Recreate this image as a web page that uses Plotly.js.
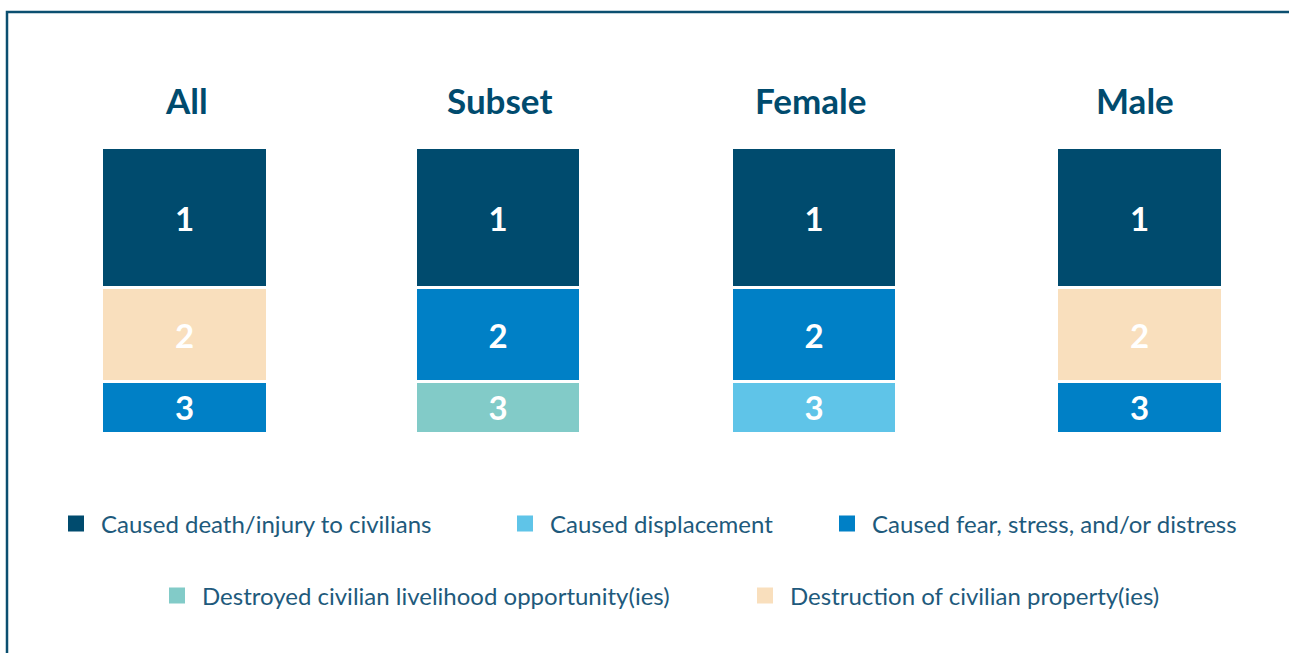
<!DOCTYPE html>
<html><head><meta charset="utf-8">
<script src="https://cdn.plot.ly/plotly-3.0.1.min.js"></script>
<style>html,body{margin:0;padding:0;background:#fff;} #chart{width:1289px;height:653px;}</style>
</head><body><div id="chart"></div>
<script>
const groups = ['All', 'Subset', 'Female', 'Male'];
const categories = [
  'Destroyed civilian livelihood opportunity(ies)',
  'Caused displacement',
  'Caused fear, stress, and/or distress',
  'Destruction of civilian property(ies)',
  'Caused death/injury to civilians'
];
// rank of each category within each group (null = not in top 3)
const livelihoodRank   = [null, 3, null, null];
const displacementRank = [null, null, 3, null];
const fearRank         = [3, 2, 2, 3];
const propertyRank     = [2, null, null, 2];
const deathRank        = [1, 1, 1, 1];
const ranks = [livelihoodRank, displacementRank, fearRank, propertyRank, deathRank];
// segment size shown for each rank (1st, 2nd, 3rd)
const rankHeights = [2.72, 1.83, 1.0];
const colors = ['#82CBC8', '#5FC4E8', '#0080C6', '#F9DFBD', '#004B6E'];
const legendIds = ['legend4', 'legend2', 'legend3', 'legend5', 'legend'];

const FONT = 'Lato, "Open Sans", sans-serif';
const traces = [];
groups.forEach((g, gi) => {
  const ax = gi === 0 ? 'x' : 'x' + (gi + 1);
  categories.forEach((c, ci) => {
    const r = ranks[ci][gi];
    if (r === null) return;
    traces.push({
      type: 'bar', xaxis: ax, yaxis: 'y',
      x: [g], y: [rankHeights[r - 1]], text: [String(r)],
      name: c, showlegend: false, width: 1,
      marker: {color: colors[ci], line: {color: '#ffffff', width: 2.5}},
      textposition: 'inside', insidetextanchor: 'middle', textangle: 0,
      constraintext: 'none',
      textfont: {family: FONT, size: 33, color: '#ffffff', weight: 700},
      hoverinfo: 'none'
    });
  });
});
// legend entries
categories.forEach((c, ci) => {
  traces.push({
    type: 'scatter', mode: 'markers', x: [null], y: [null], xaxis: 'x', yaxis: 'y',
    name: c, legend: legendIds[ci], showlegend: true,
    marker: {symbol: 'square', size: 18, color: colors[ci]}, hoverinfo: 'none'
  });
});

const W = 1289, H = 653;
const px = v => v / W, py = v => (H - v) / H;
const barX = [[102, 267], [416, 580], [732, 896], [1057, 1222]];
const titleShift = [2, 1, -4, -5];
const layout = {
  width: W, height: H, margin: {l: 0, r: 0, t: 0, b: 0},
  paper_bgcolor: '#ffffff', plot_bgcolor: '#ffffff',
  barmode: 'stack', hovermode: false,
  yaxis: {domain: [py(433), py(148)], range: [0, rankHeights[0] + rankHeights[1] + rankHeights[2]],
          visible: false, fixedrange: true},
  annotations: [], shapes: [
    {type: 'rect', xref: 'paper', yref: 'paper', x0: px(7), x1: 1.05, y0: -0.1, y1: py(12),
     line: {color: '#0b4f70', width: 2.5}, fillcolor: 'rgba(0,0,0,0)', layer: 'above'}
  ]
};
groups.forEach((g, gi) => {
  const key = gi === 0 ? 'xaxis' : 'xaxis' + (gi + 1);
  layout[key] = {domain: [px(barX[gi][0]), px(barX[gi][1])], type: 'category', range: [-0.5, 0.5],
                 visible: false, fixedrange: true, anchor: 'y'};
  layout.annotations.push({
    xref: (gi === 0 ? 'x' : 'x' + (gi + 1)) + ' domain', x: 0.5, yref: 'paper', y: py(100),
    xshift: titleShift[gi],
    text: '<b>' + g + '</b>', showarrow: false, xanchor: 'center', yanchor: 'middle',
    font: {family: FONT, size: 35, color: '#004B6E'}
  });
});
const legendPos = {
  legend: [76, 524], legend2: [525, 524], legend3: [847, 524], legend4: [177, 596], legend5: [765, 596]
};
Object.keys(legendPos).forEach(k => {
  layout[k] = {x: px(legendPos[k][0] - 25), y: py(legendPos[k][1]), xanchor: 'left', yanchor: 'middle',
               orientation: 'h', itemwidth: 40, bgcolor: 'rgba(0,0,0,0)',
               font: {family: FONT, size: 24, color: '#1E5A7C'}, itemclick: false, itemdoubleclick: false};
});
Plotly.newPlot('chart', traces, layout, {displayModeBar: false, staticPlot: true});
</script></body></html>
